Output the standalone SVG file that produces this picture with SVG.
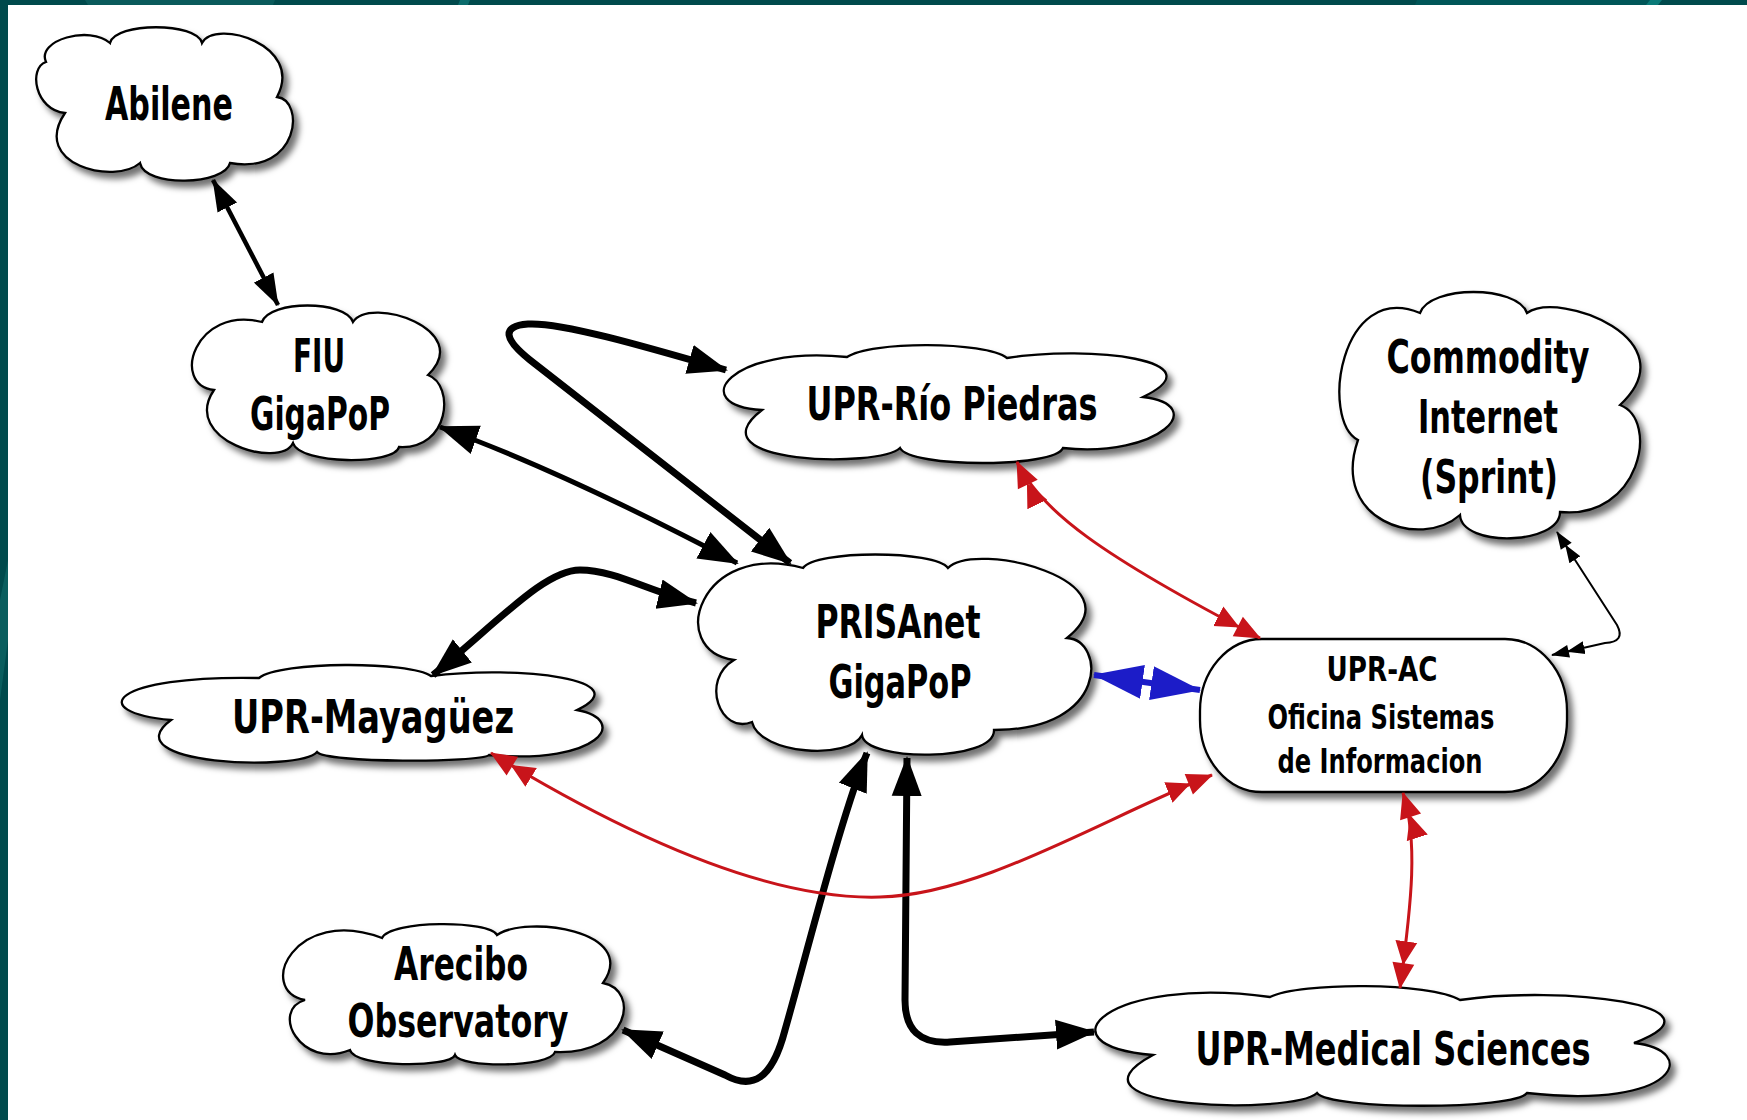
<svg xmlns="http://www.w3.org/2000/svg" width="1747" height="1120" viewBox="0 0 1747 1120">
<defs>
<style>
.cloud{fill:#fff;stroke:#000;stroke-width:2.3;filter:url(#sh)}
.lbl{font-family:'Liberation Sans Narrow','DejaVu Sans Condensed','Liberation Sans',sans-serif;font-weight:bold;font-size:47px;text-anchor:middle;fill:#000}
.sm{font-size:33px}
.k{fill:none;stroke:#000;stroke-linecap:butt;stroke-linejoin:round}
.r{fill:none;stroke:#c8141a;stroke-width:3}
</style>
<filter id="sh" x="-10%" y="-10%" width="130%" height="140%">
<feDropShadow dx="5" dy="6" stdDeviation="3" flood-color="#000" flood-opacity="0.55"/>
</filter>
<marker id="hb" markerUnits="userSpaceOnUse" markerWidth="40" markerHeight="32" viewBox="0 0 40 32" refX="38" refY="16" orient="auto-start-reverse"><path d="M0,1 L40,16 L0,31 Z" fill="#000"/></marker>
<marker id="hs" markerUnits="userSpaceOnUse" markerWidth="32" markerHeight="24" viewBox="0 0 32 24" refX="31" refY="12" orient="auto-start-reverse"><path d="M0,1 L32,12 L0,23 Z" fill="#000"/></marker>
<marker id="hr" markerUnits="userSpaceOnUse" markerWidth="48" markerHeight="24" viewBox="0 0 48 24" refX="47" refY="12" orient="auto-start-reverse"><path d="M0,1 L24,12 L0,23 Z M22,1 L48,12 L22,23 Z" fill="#c8141a"/></marker>
<marker id="hk" markerUnits="userSpaceOnUse" markerWidth="34" markerHeight="14" viewBox="0 0 34 14" refX="33" refY="7" orient="auto-start-reverse"><path d="M0,0.5 L18,7 L0,13.5 Z M16,0.5 L34,7 L16,13.5 Z" fill="#000"/></marker>
<marker id="hbl" markerUnits="userSpaceOnUse" markerWidth="50" markerHeight="34" viewBox="0 0 50 34" refX="49" refY="17" orient="auto-start-reverse"><path d="M0,0 L50,17 L0,34 Z" fill="#1c1cc8"/></marker>
</defs>

<g id="background">
<rect x="0" y="0" width="1747" height="1120" fill="#fff"/>
<rect x="0" y="0" width="1747" height="5" fill="#004a4c"/>
<rect x="0" y="0" width="8" height="1120" fill="#004a4c"/>
<polygon points="85,0 275,0 273,5 88,5" fill="#0a5a5b"/>
<polygon points="460,0 470,0 468,5 458,5" fill="#0b6c6c"/>
<polygon points="1417,0 1650,0 1648,5 1415,5" fill="#005658"/>
<polygon points="1650,0 1662,0 1658,5 1646,5" fill="#0a7a78"/>
<polygon points="0,600 8,560 8,640 0,700" fill="#0a5e5e"/>
</g>

<g id="abilene">
<path class="cloud" d="M65,113 C35,110 28,68 46,62 C36,40 90,25 110,43 C115,22 197,22 202,43 C215,18 305,45 277,97 C305,100 300,175 230,163 C225,185 145,188 140,163 C115,185 30,165 65,113 Z"/>
<text class="lbl" x="169" y="120" textLength="128" lengthAdjust="spacingAndGlyphs">Abilene</text>
</g>

<g id="fiu">
<path class="cloud" d="M214,390 C170,385 195,305 262,322 C270,300 345,300 353,322 C370,295 475,330 428,375 C455,385 450,450 399,447 C395,465 300,465 293,443 C280,470 180,440 214,390 Z"/>
<text class="lbl" x="319" y="372" textLength="52" lengthAdjust="spacingAndGlyphs">FIU</text>
<text class="lbl" x="320" y="430" textLength="140" lengthAdjust="spacingAndGlyphs">GigaPoP</text>
</g>

<g id="rio-piedras">
<path class="cloud" d="M762,410 C685,405 730,345 847,357 C870,341 985,341 1007,358 C1090,345 1220,360 1143,397 C1210,405 1160,458 1063,448 C1055,468 910,468 900,448 C880,468 690,465 762,410 Z"/>
<text class="lbl" x="952" y="420" textLength="291" lengthAdjust="spacingAndGlyphs">UPR-Río Piedras</text>
</g>

<g id="commodity">
<path class="cloud" d="M1358,440 C1320,420 1340,280 1420,313 C1430,285 1517,285 1527,313 C1560,290 1690,340 1620,405 C1660,420 1640,520 1560,512 C1560,545 1462,548 1460,515 C1420,550 1330,520 1358,440 Z"/>
<text class="lbl" x="1488" y="373" textLength="203" lengthAdjust="spacingAndGlyphs">Commodity</text>
<text class="lbl" x="1488" y="433" textLength="140" lengthAdjust="spacingAndGlyphs">Internet</text>
<text class="lbl" x="1489" y="493" textLength="138" lengthAdjust="spacingAndGlyphs">(Sprint)</text>
</g>

<g id="prisanet">
<path class="cloud" d="M734,660 C665,650 700,540 803,568 C815,550 935,550 948,568 C975,540 1140,580 1067,638 C1105,640 1110,730 994,730 C995,762 865,762 862,735 C850,760 760,755 752,722 C720,735 700,680 734,660 Z"/>
<text class="lbl" x="898" y="638" textLength="165" lengthAdjust="spacingAndGlyphs">PRISAnet</text>
<text class="lbl" x="900" y="698" textLength="143" lengthAdjust="spacingAndGlyphs">GigaPoP</text>
</g>

<g id="mayaguez">
<path class="cloud" d="M171,720 C85,712 110,675 259,678 C280,661 410,661 431,676 C520,665 640,680 577,710 C630,720 600,765 489,755 C480,763 325,763 317,752 C300,772 110,765 171,720 Z"/>
<text class="lbl" x="373" y="733" textLength="282" lengthAdjust="spacingAndGlyphs">UPR-Mayagüez</text>
</g>

<g id="upr-ac">
<rect class="cloud" x="1200" y="639" width="367" height="153" rx="62" ry="72"/>
<text class="lbl sm" x="1382" y="681" textLength="111" lengthAdjust="spacingAndGlyphs">UPR-AC</text>
<text class="lbl sm" x="1381" y="729" textLength="227" lengthAdjust="spacingAndGlyphs">Oficina Sistemas</text>
<text class="lbl sm" x="1380" y="773" textLength="205" lengthAdjust="spacingAndGlyphs">de Informacion</text>
</g>

<g id="arecibo">
<path class="cloud" d="M305,1000 C255,990 295,905 382,938 C390,920 490,920 497,935 C525,915 640,930 603,983 C640,990 630,1055 555,1052 C550,1068 460,1068 455,1055 C450,1068 355,1068 350,1050 C300,1070 270,1010 305,1000 Z"/>
<text class="lbl" x="461" y="980" font-size="44" textLength="134" lengthAdjust="spacingAndGlyphs">Arecibo</text>
<text class="lbl" x="458" y="1037" font-size="44" textLength="221" lengthAdjust="spacingAndGlyphs">Observatory</text>
</g>

<g id="medical-sciences">
<path class="cloud" d="M1153,1055 C1035,1045 1110,975 1270,997 C1300,982 1430,982 1460,1000 C1560,985 1735,1005 1634,1043 C1700,1050 1680,1110 1527,1093 C1515,1110 1330,1110 1317,1093 C1295,1115 1050,1110 1153,1055 Z"/>
<text class="lbl" x="1393" y="1065" textLength="395" lengthAdjust="spacingAndGlyphs">UPR-Medical Sciences</text>
</g>

<g id="connectors">
<path class="k" d="M213,180 L278,305" stroke-width="4.5" marker-start="url(#hs)" marker-end="url(#hs)"/>
<path class="k" d="M440,427 Q560,470 737,563" stroke-width="5" marker-start="url(#hb)" marker-end="url(#hb)"/>
<path class="k" d="M726,370 C640,345 560,322 528,324 C500,326 505,340 530,360 L790,563" stroke-width="7" marker-start="url(#hb)" marker-end="url(#hb)"/>
<path class="k" d="M433,675 C500,620 545,570 580,570 C615,570 650,592 696,603" stroke-width="7" marker-start="url(#hb)" marker-end="url(#hb)"/>
<path class="k" d="M623,1030 L725,1075 C752,1090 772,1080 785,1030 C805,960 840,820 867,753" stroke-width="7" marker-start="url(#hb)" marker-end="url(#hb)"/>
<path class="k" d="M907,758 L905,1000 Q905,1045 950,1042 L1094,1032" stroke-width="7" marker-start="url(#hb)" marker-end="url(#hb)"/>
<path d="M1094,675 L1200,690" fill="none" stroke="#1c1cc8" stroke-width="6" marker-start="url(#hbl)" marker-end="url(#hbl)"/>
<path class="r" d="M1017,462 C1040,510 1100,555 1260,638" marker-start="url(#hr)" marker-end="url(#hr)"/>
<path class="r" d="M491,753 C650,850 780,900 880,897 C980,895 1100,820 1212,775" marker-start="url(#hr)" marker-end="url(#hr)"/>
<path class="r" d="M1403,793 C1418,840 1412,900 1400,988" marker-start="url(#hr)" marker-end="url(#hr)"/>
<path class="k" d="M1557,532 L1617,625 Q1626,642 1605,643 L1552,655" stroke-width="2" marker-start="url(#hk)" marker-end="url(#hk)"/>
</g>
</svg>
